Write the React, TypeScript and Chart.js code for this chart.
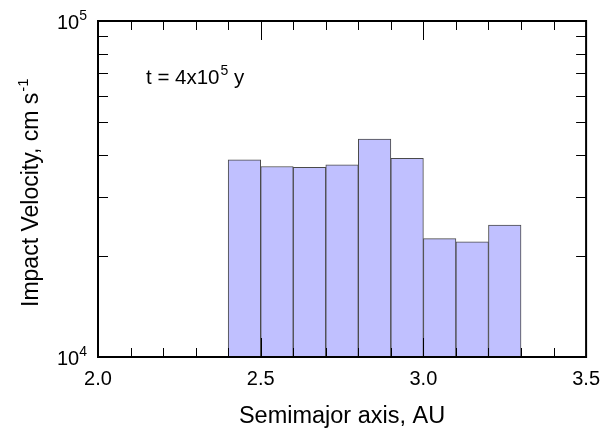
import React, { useEffect, useRef } from "react";
import { Chart, registerables } from "chart.js";

Chart.register(...registerables);

// Histogram bins (centres, AU) and impact velocities (cm/s)
const binCenters = [2.45, 2.55, 2.65, 2.75, 2.85, 2.95, 3.05, 3.15, 3.25];
const velocities = [38600, 36900, 36700, 37300, 44500, 39000, 22500, 22000, 24700];

const xMin = 2.0;
const xMax = 3.5;
const xMinorStep = 0.1;
const yMin = 1e4;
const yMax = 1e5;

const xTitle = "Semimajor axis, AU";
const yTitle = "Impact Velocity, cm s";
const yTitleSup = "-1";
const noteMain = "t = 4x10";
const noteSup = "5";
const noteTail = " y";

const FONT = "'Liberation Sans', Arial, sans-serif";

const isDecade = (v: number) => {
  const e = Math.log10(v);
  return Math.abs(e - Math.round(e)) < 1e-9;
};
const isIntMantissa = (v: number) => {
  const m = v / Math.pow(10, Math.floor(Math.log10(v) + 1e-9));
  return Math.abs(m - Math.round(m)) < 1e-6;
};

const framePlugin = {
  id: "framePlugin",
  afterDatasetsDraw(chart: any) {
    const { ctx, chartArea: a, scales } = chart;
    const xs = scales.x;
    const ys = scales.y;
    ctx.save();
    // ticks inward
    ctx.strokeStyle = "#000";
    ctx.lineWidth = 1;
    xs.ticks.forEach((t: any) => {
      const px = Math.round(xs.getPixelForValue(t.value)) + 0.5;
      const major = Math.abs(t.value * 2 - Math.round(t.value * 2)) < 1e-6;
      const len = major ? 19 : 9;
      ctx.beginPath();
      ctx.moveTo(px, a.bottom);
      ctx.lineTo(px, a.bottom - len);
      ctx.moveTo(px, a.top);
      ctx.lineTo(px, a.top + len);
      ctx.stroke();
    });
    ys.ticks.forEach((t: any) => {
      if (!isIntMantissa(t.value)) return;
      const py = Math.round(ys.getPixelForValue(t.value)) + 0.5;
      const len = 10;
      ctx.beginPath();
      ctx.moveTo(a.left, py);
      ctx.lineTo(a.left + len, py);
      ctx.moveTo(a.right, py);
      ctx.lineTo(a.right - len, py);
      ctx.stroke();
    });
    // frame
    ctx.lineWidth = 2;
    ctx.strokeRect(a.left, a.top, a.right - a.left, a.bottom - a.top);

    ctx.fillStyle = "#000";
    // y labels with superscript exponent
    ys.ticks.forEach((t: any) => {
      if (!isDecade(t.value)) return;
      const e = Math.round(Math.log10(t.value));
      const py = ys.getPixelForValue(t.value);
      ctx.font = `14px ${FONT}`;
      ctx.textAlign = "right";
      ctx.textBaseline = "alphabetic";
      const expStr = String(e);
      ctx.fillText(expStr, 87, py - 1);
      const ew = ctx.measureText(expStr).width;
      ctx.font = `20px ${FONT}`;
      ctx.fillText("10", 87 - ew, py + 8);
    });

    // x title
    ctx.font = `23.5px ${FONT}`;
    ctx.textAlign = "center";
    ctx.textBaseline = "alphabetic";
    ctx.fillText(xTitle, (a.left + a.right) / 2, 423);

    // y title rotated
    ctx.save();
    ctx.translate(38, 307);
    ctx.rotate(-Math.PI / 2);
    ctx.textAlign = "left";
    ctx.font = `23px ${FONT}`;
    ctx.fillText(yTitle, 0, 0);
    const tw = ctx.measureText(yTitle).width;
    ctx.font = `15px ${FONT}`;
    ctx.fillText(yTitleSup, tw + 1, -10);
    ctx.restore();

    // annotation
    ctx.textAlign = "left";
    ctx.font = `20.5px ${FONT}`;
    let x = 146;
    const by = 84;
    ctx.fillText(noteMain, x, by);
    x += ctx.measureText(noteMain).width + 1;
    ctx.font = `14px ${FONT}`;
    ctx.fillText(noteSup, x, by - 9);
    x += ctx.measureText(noteSup).width;
    ctx.font = `20.5px ${FONT}`;
    ctx.fillText(noteTail, x, by);
    ctx.restore();
  },
};

export default function App() {
  const ref = useRef<HTMLCanvasElement>(null);
  useEffect(() => {
    if (!ref.current) return;
    const chart = new Chart(ref.current, {
      type: "bar",
      data: {
        datasets: [
          {
            data: binCenters.map((x, i) => ({ x, y: velocities[i] })),
            backgroundColor: "#c0c0ff",
            borderColor: "#4a4a4a",
            borderWidth: 1,
            base: yMin,
            barPercentage: 1,
            categoryPercentage: 1,
          } as any,
        ],
      },
      options: {
        responsive: false,
        animation: false,
        devicePixelRatio: 1,
        layout: { padding: { top: 21, right: 23, left: 0, bottom: 0 } },
        plugins: { legend: { display: false }, tooltip: { enabled: false } },
        scales: {
          x: {
            type: "linear",
            min: xMin,
            max: xMax,
            offset: false,
            grid: { display: false, drawTicks: false },
            border: { display: false },
            ticks: {
              stepSize: xMinorStep,
              autoSkip: false,
              maxRotation: 0,
              padding: 10,
              color: "#000",
              font: { family: FONT, size: 20 },
              callback: (v: any) => {
                const n = Number(v);
                return Math.abs(n * 2 - Math.round(n * 2)) < 1e-6 ? n.toFixed(1) : "";
              },
            },
            afterFit: (s: any) => {
              s.height = 75;
            },
          },
          y: {
            type: "logarithmic",
            min: yMin,
            max: yMax,
            grid: { display: false, drawTicks: false },
            border: { display: false },
            ticks: { callback: () => "", autoSkip: false },
            afterFit: (s: any) => {
              s.width = 98;
            },
          },
        },
      } as any,
      plugins: [framePlugin],
    });
    return () => chart.destroy();
  }, []);
  return (
    <canvas
      ref={ref}
      width={610}
      height={432}
      style={{ position: "absolute", left: 0, top: 0, width: 610, height: 432, background: "#fff" }}
    />
  );
}
